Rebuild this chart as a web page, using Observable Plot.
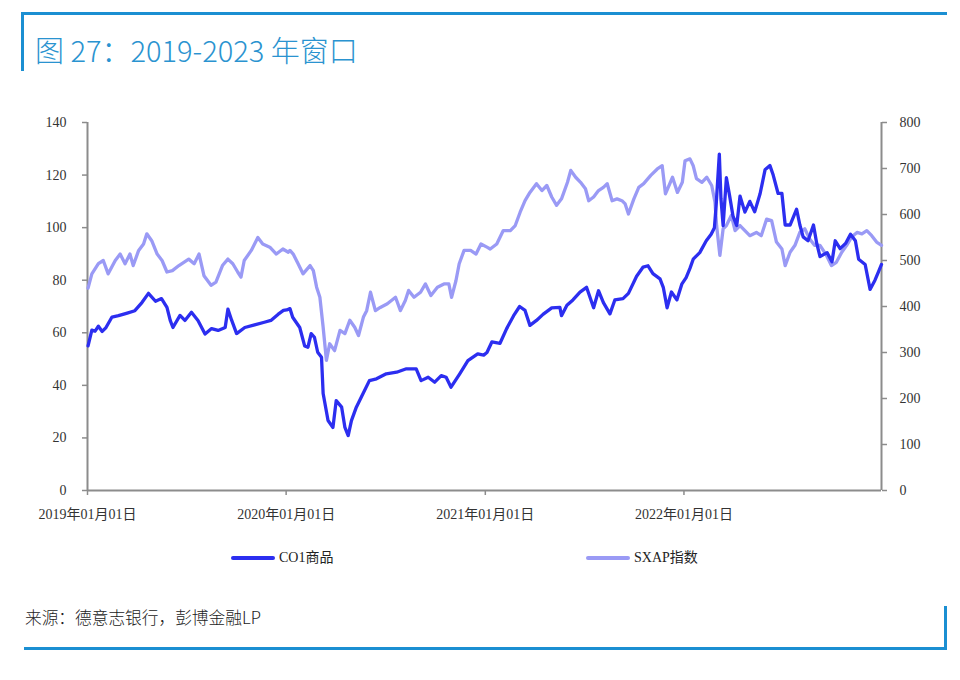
<!DOCTYPE html>
<html>
<head>
<meta charset="utf-8">
<script src="https://cdn.jsdelivr.net/npm/d3@7"></script>
<script src="https://cdn.jsdelivr.net/npm/@observablehq/plot@0.6"></script>
<style>
  body { margin: 0; background: #fff; }
  #page { position: relative; width: 960px; height: 680px; overflow: hidden; background: #fff;
          font-family: "Liberation Serif", "Noto Sans CJK SC", serif; }
  .bar { position: absolute; background: #1b8fd2; }
  #title { position: absolute; left: 35px; top: 35px; font-family: "Noto Sans CJK SC", sans-serif;
           font-weight: 300; font-size: 29px; line-height: 1; color: #2a93d0; white-space: nowrap; }
  #chart { position: absolute; left: 0; top: 0; }
  .legend { position: absolute; top: 549px; font-size: 14px; line-height: 18px; color: #222;
            display: flex; align-items: center; white-space: nowrap; }
  .legend i { display: inline-block; width: 44px; height: 4px; border-radius: 2px; margin-right: 4px; }
  #source { position: absolute; left: 25px; top: 609px; font-family: "Noto Sans CJK SC", sans-serif;
            font-weight: 300; font-size: 16.7px; line-height: 1; color: #222; white-space: nowrap; }
</style>
</head>
<body>
<div id="page">
  <div class="bar" style="left:21px;top:12px;width:926px;height:3px"></div>
  <div class="bar" style="left:21px;top:12px;width:3px;height:59px"></div>
  <div id="title">图 27：2019-2023 年窗口</div>
  <div id="chart"></div>
  <div class="legend" style="left:231px"><i style="background:#2c2ef0"></i>CO1商品</div>
  <div class="legend" style="left:586px"><i style="background:#9a9af5"></i>SXAP指数</div>
  <div id="source">来源：德意志银行，彭博金融LP</div>
  <div class="bar" style="left:24px;top:647px;width:923px;height:3px"></div>
  <div class="bar" style="left:944px;top:606px;width:3px;height:44px"></div>
</div>
<script>
// Brent front-month (CO1), USD/bbl, left axis
const co1Dates = [
  "2019-01-02","2019-01-09","2019-01-15","2019-01-21","2019-01-28","2019-02-04","2019-02-15","2019-02-27","2019-03-15",
  "2019-03-29","2019-04-11","2019-04-23","2019-05-06","2019-05-17","2019-05-27","2019-06-02","2019-06-07",
  "2019-06-20","2019-06-29","2019-07-11","2019-07-23","2019-08-05","2019-08-17","2019-08-29","2019-09-11",
  "2019-09-16","2019-09-23","2019-10-02","2019-10-17","2019-11-04","2019-11-22","2019-12-04","2019-12-17",
  "2019-12-27","2020-01-02","2020-01-08","2020-01-13","2020-01-26","2020-02-04","2020-02-10","2020-02-16",
  "2020-02-22","2020-02-28","2020-03-06","2020-03-09","2020-03-18","2020-03-27","2020-04-02","2020-04-12",
  "2020-04-18","2020-04-24","2020-04-30","2020-05-09","2020-05-18","2020-06-02","2020-06-15","2020-07-03",
  "2020-07-22","2020-08-09","2020-08-27","2020-09-05","2020-09-18","2020-09-30","2020-10-12","2020-10-21",
  "2020-10-30","2020-11-15","2020-11-30","2020-12-18","2020-12-29","2021-01-04","2021-01-13","2021-01-28",
  "2021-02-09","2021-02-22","2021-03-05","2021-03-15","2021-03-24","2021-04-05","2021-04-17","2021-05-03",
  "2021-05-18","2021-05-21","2021-05-31","2021-06-11","2021-06-24","2021-07-06","2021-07-19","2021-07-28",
  "2021-08-06","2021-08-18","2021-08-27","2021-09-11","2021-09-21","2021-10-06","2021-10-18","2021-10-27",
  "2021-11-05","2021-11-18","2021-11-24","2021-12-01","2021-12-09","2021-12-19","2021-12-28","2022-01-05",
  "2022-01-12","2022-01-18","2022-01-30","2022-02-11","2022-02-20","2022-02-26","2022-03-01","2022-03-04",
  "2022-03-07","2022-03-10","2022-03-14","2022-03-20","2022-03-26","2022-04-01","2022-04-08","2022-04-14",
  "2022-04-23","2022-05-02","2022-05-11","2022-05-21","2022-05-30","2022-06-08","2022-06-14","2022-06-23",
  "2022-06-30","2022-07-06","2022-07-15","2022-07-21","2022-07-27","2022-08-02","2022-08-08","2022-08-17",
  "2022-08-27","2022-09-02","2022-09-08","2022-09-21","2022-09-30","2022-10-06","2022-10-15","2022-10-25",
  "2022-11-03","2022-11-12","2022-11-18","2022-11-30","2022-12-09","2022-12-18","2022-12-24","2022-12-30"
];
const co1Values = [
  55, 61, 60.6, 62.5, 60.5, 62, 66, 66.5, 67.5,
  68.4, 71.5, 75, 72, 73, 69.7, 64.7, 62,
  66.6, 64.7, 67.8, 64.7, 59.5, 61.6, 60.9, 62,
  69, 64.7, 59.7, 62, 63, 64, 64.7, 67,
  68.5, 68.7, 69.2, 65.9, 62, 55, 54.5, 59.7,
  58.3, 52.6, 50.7, 36.9, 26.6, 24, 34.2, 31.7,
  24, 20.9, 26.6, 31.7, 35.5, 41.8, 42.5, 44.4,
  45, 46.3, 46.3, 41.8, 43.1, 41.2, 43.7, 43.1,
  39.3, 44.4, 49.4, 52, 51.5, 52.5, 56.5, 56,
  61.5, 66.5, 70, 68.5, 62.8, 64.7, 67, 69.5,
  69.7, 66.5, 70.5, 72.5, 75.5, 77.3, 69.5, 76,
  71.5, 67.2, 72.5, 73, 75, 81.5, 85, 85.5,
  82.5, 80.5, 77.3, 69.5, 75.5, 72.5, 78.5, 81,
  84.5, 88, 90.5, 95, 97.5, 100, 108, 118,
  128, 111, 100.8, 119, 112, 104.5, 100.8, 112,
  105.9, 110, 106, 113, 122, 123.6, 120, 113,
  113, 101, 101, 104, 107, 101, 96.5, 95,
  101, 94, 89, 90.5, 87, 95, 92, 94,
  97.5, 95, 88, 86, 76.5, 80, 83, 86
];

// STOXX Europe 600 Automobiles & Parts (SXAP), right axis
const sxapDates = [
  "2019-01-02","2019-01-09","2019-01-21","2019-01-30","2019-02-08","2019-02-21","2019-03-02","2019-03-11",
  "2019-03-20","2019-03-26","2019-04-05","2019-04-14","2019-04-20","2019-04-29","2019-05-09","2019-05-18",
  "2019-05-27","2019-06-06","2019-06-18","2019-06-27","2019-07-06","2019-07-16","2019-07-25","2019-08-03",
  "2019-08-16","2019-08-25","2019-09-06","2019-09-16","2019-09-25","2019-10-04","2019-10-10","2019-10-16",
  "2019-10-29","2019-11-10","2019-11-19","2019-12-02","2019-12-14","2019-12-26","2020-01-05","2020-01-08",
  "2020-01-14","2020-01-23","2020-02-01","2020-02-14","2020-02-20","2020-02-26","2020-03-03","2020-03-09",
  "2020-03-15","2020-03-21","2020-03-30","2020-04-09","2020-04-18","2020-04-27","2020-05-06","2020-05-13",
  "2020-05-22","2020-05-28","2020-06-04","2020-06-13","2020-06-22","2020-07-05","2020-07-20","2020-07-29",
  "2020-08-07","2020-08-13","2020-08-23","2020-09-04","2020-09-13","2020-09-23","2020-10-05","2020-10-17",
  "2020-10-26","2020-10-31","2020-11-08","2020-11-14","2020-11-23","2020-12-05","2020-12-15","2020-12-24",
  "2021-01-04","2021-01-10","2021-01-22","2021-02-03","2021-02-16","2021-02-25","2021-03-06","2021-03-15",
  "2021-03-24","2021-04-05","2021-04-15","2021-04-24","2021-05-03","2021-05-12","2021-05-21","2021-06-01",
  "2021-06-07","2021-06-16","2021-06-25","2021-07-04","2021-07-10","2021-07-19","2021-07-28","2021-08-06",
  "2021-08-13","2021-08-22","2021-08-31","2021-09-09","2021-09-15","2021-09-21","2021-10-01","2021-10-10",
  "2021-10-19","2021-11-01","2021-11-13","2021-11-22","2021-11-28","2021-12-11","2021-12-20","2021-12-29",
  "2022-01-03","2022-01-12","2022-01-18","2022-01-24","2022-02-03","2022-02-12","2022-02-21","2022-02-27",
  "2022-03-02","2022-03-08","2022-03-14","2022-03-20","2022-03-29","2022-04-05","2022-04-14","2022-04-23",
  "2022-05-02","2022-05-14","2022-05-23","2022-06-02","2022-06-11","2022-06-20","2022-06-30","2022-07-06",
  "2022-07-15","2022-07-24","2022-08-02","2022-08-11","2022-08-20","2022-08-29","2022-09-08","2022-09-20",
  "2022-09-29","2022-10-08","2022-10-18","2022-10-27","2022-11-05","2022-11-15","2022-11-24","2022-12-03",
  "2022-12-12","2022-12-21","2022-12-30"
];
const sxapValues = [
  440, 471, 493, 500, 471, 500, 514, 493,
  514, 489, 522, 536, 558, 543, 514, 500,
  475, 478, 489, 496, 503, 493, 514, 467,
  446, 453, 489, 503, 493, 475, 464, 500,
  522, 550, 536, 529, 514, 525, 518, 522,
  514, 493, 471, 489, 478, 442, 420, 355,
  283, 319, 304, 348, 341, 370, 355, 337,
  377, 391, 431, 391, 398, 406, 420, 391,
  413, 435, 420, 431, 449, 424, 442, 449,
  449, 420, 456, 493, 522, 522, 514, 536,
  529, 525, 536, 565, 565, 576, 605, 630,
  648, 667, 652, 663, 638, 620, 634, 670,
  696, 681, 670, 656, 630, 638, 652, 659,
  667, 630, 634, 630, 623, 601, 634, 659,
  667, 685, 699, 706, 645, 681, 648, 670,
  717, 721, 706, 678, 670, 681, 663, 627,
  576, 511, 569, 576, 598, 565, 576, 565,
  554, 561, 554, 590, 587, 540, 525, 489,
  518, 533, 561, 569, 547, 533, 533, 511,
  489, 496, 518, 533, 551, 561, 558, 565,
  554, 540, 533
];

// Axis ticks
const xTicks = ["2019-01-01", "2020-01-01", "2021-01-01", "2022-01-01"];
const leftTicks = [0, 20, 40, 60, 80, 100, 120, 140];
const rightTicks = [0, 100, 200, 300, 400, 500, 600, 700, 800];

const xStart = new Date("2019-01-01");
const xEnd = new Date("2022-12-30");
const leftMax = 140, rightMax = 800;
const k = leftMax / rightMax; // right-axis value -> left-axis units

const co1 = co1Dates.map((d, i) => ({date: new Date(d), value: co1Values[i]}));
const sxap = sxapDates.map((d, i) => ({date: new Date(d), value: sxapValues[i]}));

const axisGray = "#8c8c8c";
const fmt = d3.utcFormat("%Y年%m月%d日");

const chart = Plot.plot({
  width: 960,
  height: 530,
  marginTop: 122,
  marginBottom: 40,
  marginLeft: 87,
  marginRight: 79,
  style: {fontFamily: '"Liberation Serif", "Noto Sans CJK SC", serif', fontSize: "14px", color: "#333", background: "transparent"},
  x: {type: "utc", domain: [xStart, xEnd]},
  y: {domain: [0, leftMax]},
  marks: [
    Plot.axisX({ticks: xTicks.map(d => new Date(d)), tickFormat: fmt, tickSize: 5, tickPadding: 14,
                stroke: axisGray, strokeWidth: 1.5, label: null}),
    Plot.axisY({anchor: "left", ticks: leftTicks, tickSize: 5, tickPadding: 16,
                stroke: axisGray, strokeWidth: 1.5, label: null}),
    Plot.axisY({anchor: "right", ticks: rightTicks.map(v => v * k), tickFormat: v => Math.round(v / k),
                tickSize: 5, tickPadding: 13, stroke: axisGray, strokeWidth: 1.5, label: null}),
    Plot.ruleX([xStart], {stroke: axisGray, strokeWidth: 2}),
    Plot.ruleX([xEnd], {stroke: axisGray, strokeWidth: 2}),
    Plot.line(sxap, {x: "date", y: d => d.value * k, stroke: "#9a9af5", strokeWidth: 3.3}),
    Plot.line(co1, {x: "date", y: "value", stroke: "#2c2ef0", strokeWidth: 3.3}),
    Plot.ruleY([0], {stroke: axisGray, strokeWidth: 2})
  ]
});
document.getElementById("chart").appendChild(chart);
</script>
</body>
</html>
